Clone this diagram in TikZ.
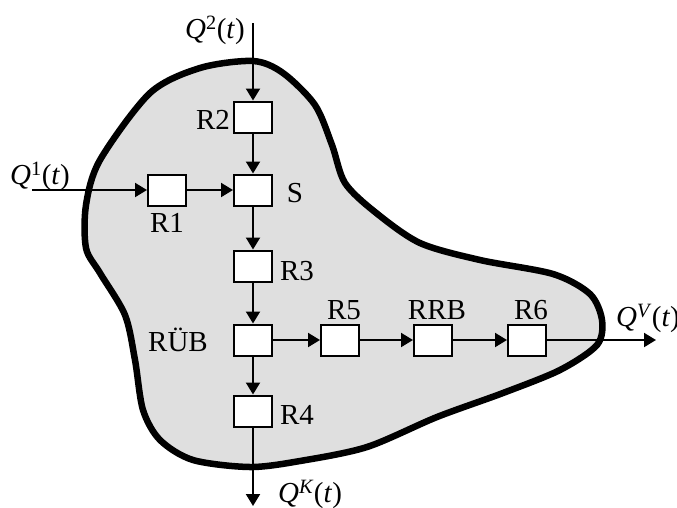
\documentclass[tikz,border=0pt]{standalone}
\usepackage{fontspec}
\setmainfont{Liberation Serif}
\usetikzlibrary{arrows.meta}
\newcommand{\qflow}[1]{\textit{Q}\textsuperscript{#1}(\textit{t})}

\begin{document}
\begin{tikzpicture}[x=1pt, y=-1pt,
    font=\fontsize{29}{34}\selectfont,
    res/.style={draw, line width=2pt, fill=white, minimum width=38pt, minimum height=31pt, inner sep=0pt},
    flow/.style={line width=2pt, -{Triangle[length=12pt,width=14pt]}},
    lbl/.style={inner sep=0pt}]
  \useasboundingbox (0,0) rectangle (677,507);
  % Einzugsgebiet
  \draw[line width=6.5pt, fill=gray!25, line join=round] plot[smooth cycle] coordinates {
      (253,61) (283,73) (315,105) (332,145) (345,183) (375,212) (420,243)
      (480,260) (553,274) (590,294) (602,320) (597,345) (560,370) (503,393)
      (437,417) (367,447) (300,461) (250,467) (193,460) (160,440) (143,410)
      (135,360) (125,315) (100,273) (86,248) (86,205) (100,160) (150,93) (200,68)};
  % Speicher
  \node[res] (r2) at (253,117) {};
  \node[res] (s) at (253,190) {};
  \node[res] (r1) at (167,190) {};
  \node[res] (r3) at (253,266) {};
  \node[res] (rub) at (253,340) {};
  \node[res] (r4) at (253,411) {};
  \node[res] (r5) at (340,340) {};
  \node[res] (rrb) at (433,340) {};
  \node[res] (r6) at (527,340) {};
  % Zu- und Abfluesse
  \coordinate (in2) at (253,23);
  \coordinate (in1) at (32,190);
  \coordinate (outv) at (656,340);
  \coordinate (outk) at (253,506);
  \draw[flow] (in2) -- (r2);
  \draw[flow] (r2) -- (s);
  \draw[flow] (in1) -- (r1);
  \draw[flow] (r1) -- (s);
  \draw[flow] (s) -- (r3);
  \draw[flow] (r3) -- (rub);
  \draw[flow] (rub) -- (r4);
  \draw[flow] (r4) -- (outk);
  \draw[flow] (rub) -- (r5);
  \draw[flow] (r5) -- (rrb);
  \draw[flow] (rrb) -- (r6);
  \draw[flow] (r6) -- (outv);
  % Beschriftung
  \node[lbl] (lr2) at (213,120) {R2};
  \node[lbl] (ls) at (295,193) {S};
  \node[lbl] (lr1) at (167,223) {R1};
  \node[lbl] (lr3) at (297,271) {R3};
  \node[lbl] (lrub) at (178,340) {RÜB};
  \node[lbl] (lr4) at (297,415) {R4};
  \node[lbl] (lr5) at (344,310) {R5};
  \node[lbl] (lrrb) at (437,310) {RRB};
  \node[lbl] (lr6) at (531,310) {R6};
  \node[lbl] (lq2) at (215,30) {\qflow{2}};
  \node[lbl] (lq1) at (40,176) {\qflow{1}};
  \node[lbl] (lqv) at (648,318) {\qflow{\textit{V}}};
  \node[lbl] (lqk) at (310,494) {\qflow{\textit{K}}};
\end{tikzpicture}
\end{document}
